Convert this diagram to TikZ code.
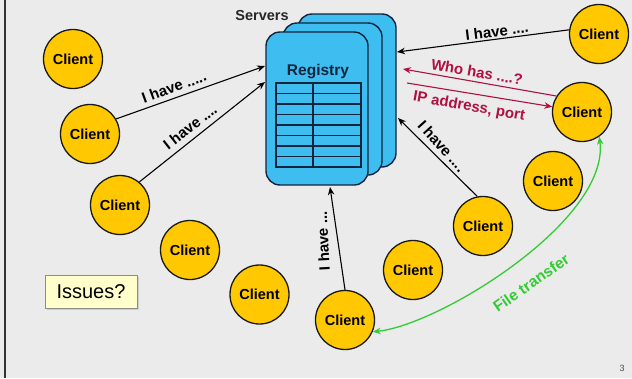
\documentclass[tikz,border=0pt]{standalone}
\usepackage{fontspec}
\setmainfont{Liberation Sans}
\usetikzlibrary{arrows.meta,shadows}
\definecolor{bg}{HTML}{EBEBEB}
\definecolor{clientfill}{HTML}{FFC800}
\definecolor{srvfill}{HTML}{3DBDF0}
\definecolor{srvline}{HTML}{14243C}
\definecolor{askred}{HTML}{B01040}
\definecolor{xfer}{HTML}{33CC33}
\definecolor{notefill}{HTML}{FFFFCC}
\begin{document}
\begin{tikzpicture}[x=1pt,y=-1pt,
  client/.style={circle,draw=black!90,line width=1.3pt,fill=clientfill,
    minimum size=59pt,inner sep=0pt,font=\fontsize{14.5}{16}\selectfont\bfseries},
  server/.style={rectangle,rounded corners=14pt,draw=srvline,line width=1.4pt,
    fill=srvfill,inner sep=0pt},
  msg/.style={line width=1.1pt,-{Stealth[length=8pt,width=6.5pt]}},
  lbl/.style={font=\fontsize{15}{17}\selectfont\bfseries,inner sep=0pt},
]
% background and left frame line
\fill[bg] (0,0) rectangle (632,378);
\useasboundingbox (0,0) rectangle (632,378);
\draw[black!80,line width=2pt] (5,0) -- (5,378);

% server stack
\node[server,minimum width=98pt,minimum height=153pt] (back) at (347,90.5) {};
\node[server,minimum width=99pt,minimum height=152pt] (mid) at (332.5,99) {};
\node[server,minimum width=102pt,minimum height=153pt] (front) at (317,108.5) {};
\node[font=\fontsize{15.5}{17}\selectfont\bfseries,text=srvline] (reg) at (318,72) {Registry};
\draw[srvline,line width=1.1pt] (276,83) rectangle (361,167);
\foreach \r in {1,...,7} \draw[srvline,line width=1.1pt] (276,83+10.5*\r) -- (361,83+10.5*\r);
\draw[srvline,line width=1.1pt] (313,83) -- (313,167);
\node[font=\fontsize{14.5}{16}\selectfont\bfseries,text=black!85] (srv) at (262,16) {Servers};

% clients
\node[client] (c1) at (73,59) {Client};
\node[client] (c2) at (90,134) {Client};
\node[client] (c3) at (120,205) {Client};
\node[client] (c4) at (190,250) {Client};
\node[client] (c5) at (259.5,294.5) {Client};
\node[client] (cb) at (345,320) {Client};
\node[client] (c8) at (413,270) {Client};
\node[client] (c7) at (483,226) {Client};
\node[client] (c9) at (553,181) {Client};
\node[client] (cr) at (582,112) {Client};
\node[client] (ctr) at (599,34) {Client};

% arrival points on the server stack
\coordinate (t1) at (265,66);
\coordinate (t2) at (265,82);
\coordinate (t3) at (397,52);
\coordinate (t4) at (403,69);
\coordinate (s5) at (407,83);
\coordinate (t6) at (398,118);
\coordinate (t7) at (330,187);

% "I have" announcements
\draw[msg] (c2.30) -- (t1);
\draw[msg] (c3.50) -- (t2);
\draw[msg] (ctr.172) -- (t3);
\draw[msg] (c7.101) -- (t6);
\draw[msg] (cb.north) -- (t7);
\node[lbl,rotate=20] (l1) at (174,87) {I have .....};
\node[lbl,rotate=38] (l2) at (190,127) {I have ....};
\node[lbl,rotate=7] (l3) at (497,31) {I have ....};
\node[lbl,rotate=-48] (l6) at (442,146) {I have ....};
\node[lbl,rotate=93] (l7) at (323,241) {I have ...};

% lookup request and reply
\draw[msg,askred] (cr.148) -- (t4);
\draw[msg,askred] (s5) -- (cr.170);
\node[lbl,rotate=-10,text=askred] (l4) at (477,72) {Who has ....?};
\node[lbl,rotate=-10,text=askred] (l5) at (469,107) {IP address, port};

% peer-to-peer transfer
\draw[line width=1.3pt,xfer,{Stealth[length=8pt,width=6.5pt]}-{Stealth[length=8pt,width=6.5pt]}]
  (cb.-23) .. controls (440,325) and (610,220) .. (cr.-55);
\node[lbl,rotate=35,text=xfer,font=\fontsize{15.5}{17}\selectfont\bfseries] (l8) at (531,283) {File transfer};

% note box
\node[draw=black!45,line width=0.8pt,fill=notefill,minimum width=92pt,minimum height=33pt,
  inner sep=0pt,font=\fontsize{20}{22}\selectfont,
  drop shadow={shadow xshift=2pt,shadow yshift=-2pt,fill=black!30}] (iss) at (91,291.5) {Issues?};

% page number
\node[font=\fontsize{9}{10}\selectfont,text=black!70] (pg) at (622,368) {3};
\end{tikzpicture}
\end{document}
